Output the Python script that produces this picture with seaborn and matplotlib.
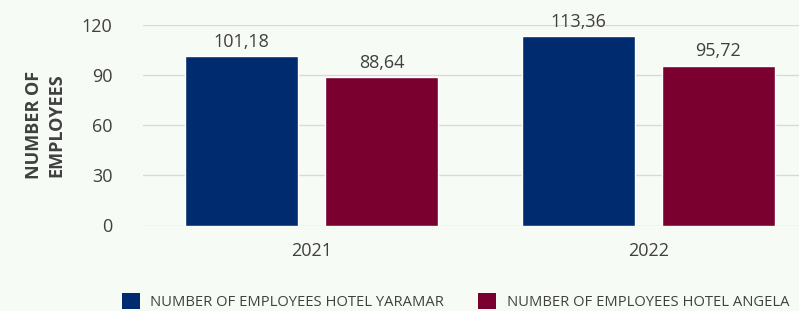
import matplotlib
matplotlib.use("Agg")
import matplotlib.pyplot as plt
import seaborn as sns
import pandas as pd
from matplotlib.patches import Patch

years = ["2021", "2022"]
series = ["NUMBER OF EMPLOYEES HOTEL YARAMAR", "NUMBER OF EMPLOYEES HOTEL ANGELA"]
yaramar = [101.18, 113.36]
angela = [88.64, 95.72]
yticks = [0, 30, 60, 90, 120]

df = pd.DataFrame({
    "year": years * 2,
    "series": [series[0]] * 2 + [series[1]] * 2,
    "value": yaramar + angela,
})

colors = ["#002B6F", "#7A0030"]
bg = "#F7FBF5"
txt = "#404040"

sns.set_theme(style="white")
plt.rcParams["font.family"] = ["Open Sans", "DejaVu Sans"]

fig = plt.figure(figsize=(7.99, 3.11), dpi=100, facecolor=bg)
ax = fig.add_axes([143 / 799, 1 - 225.5 / 311, 1 - 143 / 799, 200.5 / 311])
ax.set_facecolor(bg)

sns.barplot(data=df, x="year", y="value", hue="series", palette=colors,
            width=0.83, gap=0.19, ax=ax, legend=False, saturation=1)

ax.set_ylim(0, 120)
ax.set_yticks(yticks)
ax.set_xlim(-0.5, (799 - 311.5) / 337)
ax.yaxis.grid(True, color="#D9D9D9", linewidth=1)
ax.set_axisbelow(True)
for s in ax.spines.values():
    s.set_visible(False)
ax.tick_params(axis="y", labelsize=13, colors=txt, length=0, pad=22)
ax.tick_params(axis="x", labelsize=13, colors=txt, length=0, pad=12)
ax.set_xlabel("")
ax.set_ylabel("NUMBER OF\nEMPLOYEES", fontsize=13, fontweight="bold", color=txt,
              labelpad=12, linespacing=1.3)

for cont in ax.containers:
    ax.bar_label(cont, labels=[f"{v:.2f}".replace(".", ",") for v in cont.datavalues],
                 fontsize=13, color=txt, padding=4)

handles = [Patch(facecolor=c, edgecolor="none") for c in colors]
fig.legend(handles, series, loc="lower center", bbox_to_anchor=(0.57, -0.04), ncol=2,
           frameon=False, fontsize=10.6, labelcolor=txt, handlelength=1.25,
           handleheight=1.25, columnspacing=2.3, handletextpad=0.7)

fig.savefig("out.png", dpi=100, facecolor=bg)
